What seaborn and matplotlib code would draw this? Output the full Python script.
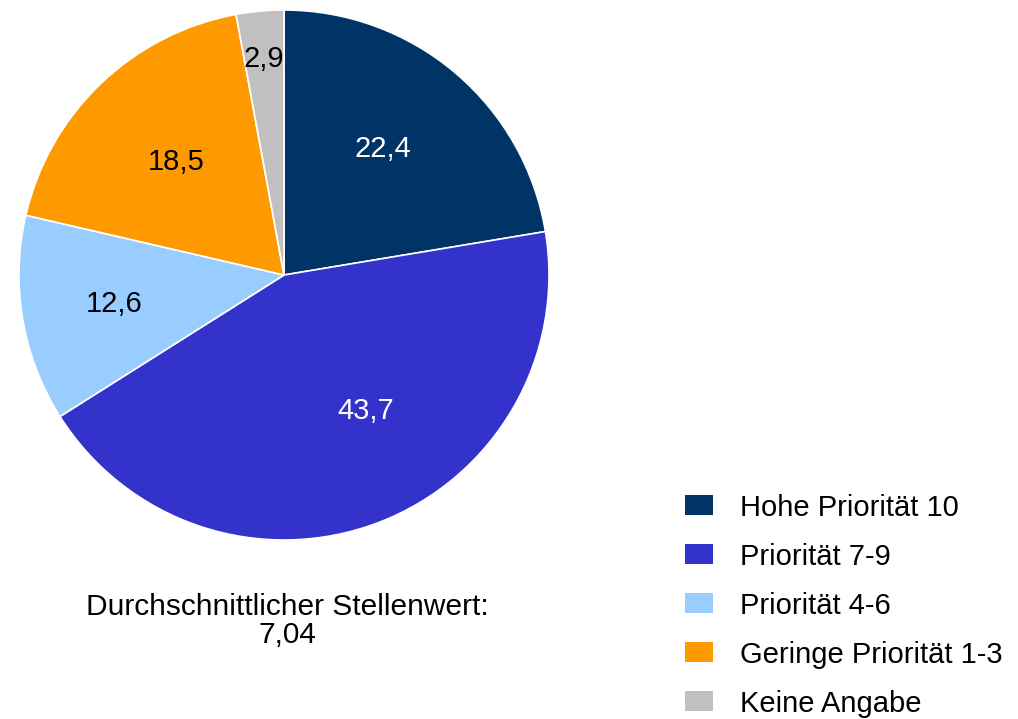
import matplotlib
matplotlib.use("Agg")
import matplotlib.pyplot as plt
import seaborn as sns
import numpy as np
from matplotlib.patches import Patch

categories = ["Hohe Priorität 10", "Priorität 7-9", "Priorität 4-6",
              "Geringe Priorität 1-3", "Keine Angabe"]
values = [22.4, 43.7, 12.6, 18.5, 2.9]
value_labels = ["22,4", "43,7", "12,6", "18,5", "2,9"]
colors = ["#003366", "#3333CC", "#99CCFF", "#FF9900", "#C0C0C0"]
label_colors = ["white", "white", "black", "black", "black"]
label_radius = [0.605, 0.60, 0.65, 0.59, 0.82]
label_angle_shift = [2, 10, 0, 0, 0]
note_text = "Durchschnittlicher Stellenwert:\n7,04"

sns.set_theme(style="white")
plt.rcParams["font.family"] = ["Liberation Sans", "DejaVu Sans"]
plt.rcParams["text.color"] = "black"

fig = plt.figure(figsize=(10.18, 7.19), dpi=100)
ax = fig.add_axes([19/1018, (719-540)/719, 530/1018, 530/719])
wedges, _ = ax.pie(values, colors=colors, startangle=90, counterclock=False,
                   radius=1.0, wedgeprops=dict(edgecolor="white", linewidth=1.2))
ax.set_xlim(-1, 1)
ax.set_ylim(-1, 1)
ax.set_aspect("equal")
ax.axis("off")

for w, lab, col, r, sh in zip(wedges, value_labels, label_colors,
                              label_radius, label_angle_shift):
    ang = np.deg2rad((w.theta1 + w.theta2) / 2 + sh)
    ax.text(r*np.cos(ang), r*np.sin(ang), lab, ha="center", va="center",
            color=col, fontsize=21)

fig.text(287/1018, 1 - 621/719, note_text, ha="center", va="center",
         fontsize=21.5, linespacing=1.02, color="black")

handles = [Patch(facecolor=c, edgecolor="none") for c in colors]
leg = fig.legend(handles, categories, loc="upper left",
                 bbox_to_anchor=(673/1018, 1 - 482/719), frameon=False,
                 fontsize=21, handlelength=0.96, handleheight=0.68,
                 handletextpad=0.92, labelspacing=0.72, borderaxespad=0)
for t in leg.get_texts():
    t.set_color("black")

fig.savefig("out.png", dpi=100)
